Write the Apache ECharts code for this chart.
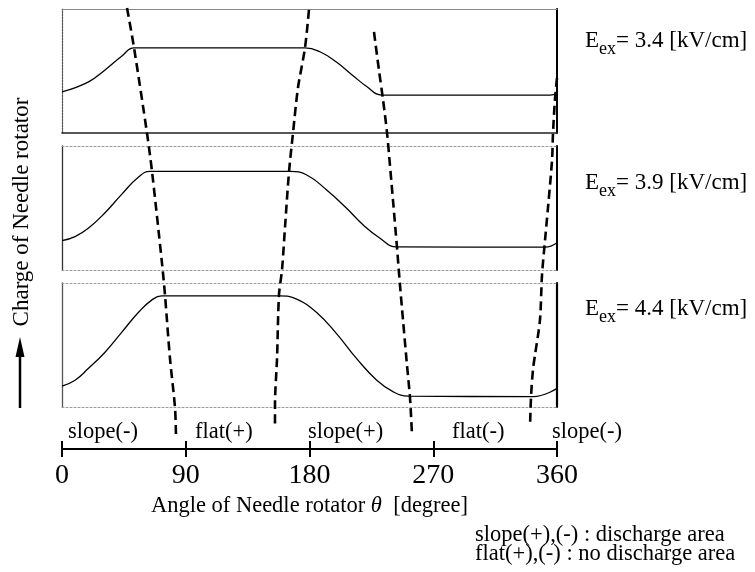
<!DOCTYPE html>
<html>
<head>
<meta charset="utf-8">
<script src="https://cdn.jsdelivr.net/npm/echarts@6/dist/echarts.min.js"></script>
<style>
  html, body { margin: 0; padding: 0; background: #fff; }
  #chart { width: 755px; height: 572px; }
</style>
</head>
<body>
<div id="chart"></div>
<script>
// Charge of the needle rotator over one turn: [θ in degrees, charge normalised to the panel height]
const chargeE34 = [[0,0.331],[19,0.41],[31.3,0.508],[43.6,0.621],[52.4,0.687],[176.7,0.687],[187.6,0.655],[199.8,0.57],[211.9,0.46],[221.6,0.375],[232.5,0.306],[355,0.306],[360,0.315]];
const chargeE39 = [[0,0.236],[9.5,0.269],[19.1,0.336],[31.3,0.462],[43.4,0.610],[55.5,0.748],[64,0.795],[165.8,0.795],[178,0.766],[192.5,0.645],[207,0.498],[219.1,0.363],[231.3,0.256],[243.4,0.186],[351.3,0.184],[360,0.22]];
const chargeE44 = [[0,0.168],[9.5,0.216],[19.1,0.31],[31.3,0.442],[43.4,0.602],[55.5,0.762],[65.2,0.862],[72.5,0.896],[158.5,0.896],[170.7,0.87],[185.2,0.762],[199.8,0.59],[214.3,0.39],[228.9,0.216],[241,0.122],[251.9,0.088],[342.8,0.084],[360,0.15]];

// Boundaries between slope and flat regions, drawn across the whole stack:
// [θ in degrees, height above the angle axis in panel heights]
const boundaryA = [[47.3,3.556],[52.4,3.234],[61.8,2.548],[65.5,2.234],[72.7,1.5],[74.9,1.242],[78.5,0.734],[82.2,0.331],[82.9,0.105]];
const boundaryB = [[179.6,3.54],[176.7,3.234],[171.6,2.911],[168,2.548],[165.1,2.234],[162.2,1.79],[160,1.444],[157.8,1.242],[156.4,0.734],[154.9,0.355],[154.9,0.177]];
const boundaryC = [[226.9,3.363],[230.5,3.056],[233.5,2.815],[236.4,2.548],[238.5,2.29],[240.7,2.008],[243.6,1.629],[245.8,1.323],[248,1.04],[250.9,0.677],[253.1,0.411],[254.5,0.121]];
const boundaryD = [[360,2.992],[358.5,2.815],[357.1,2.548],[356.4,2.331],[353.5,1.952],[351.3,1.685],[349.1,1.403],[347.6,1.04],[344,0.758],[342.5,0.637],[341.1,0.419],[340.4,0.177]];

const fieldLabels = ['3.4', '3.9', '4.4'];
const regionLabels = ['slope(-)', 'flat(+)', 'slope(+)', 'flat(-)', 'slope(-)'];
const angleTicks = [0, 90, 180, 270, 360];
const noteLines = ['slope(+),(-) : discharge area', 'flat(+),(-) : no discharge area'];

const FONT = 'Liberation Serif';
const chart = echarts.init(document.getElementById('chart'), null, { renderer: 'canvas' });

const panelTops = [9, 146, 283];
const PANEL_H = 124;
const grids = panelTops.map(t => ({ left: 62, right: 198, top: t, height: PANEL_H }));
grids.push({ left: 62, right: 198, top: 8, bottom: 123 });   // frame for boundaries + angle axis
grids.push({ left: 62, right: 198, top: 8, bottom: 123 });   // outward tick marks

function hLine(gridIndex, position, lineStyle) {
  return {
    type: 'value', gridIndex, position, min: 0, max: 360,
    axisLine: { show: true, onZero: false, lineStyle },
    axisTick: { show: false }, axisLabel: { show: false }, splitLine: { show: false }
  };
}
function vLine(gridIndex, position, lineStyle) {
  return {
    type: 'value', gridIndex, position, min: 0, max: 1,
    axisLine: { show: true, onZero: false, lineStyle },
    axisTick: { show: false }, axisLabel: { show: false }, splitLine: { show: false }
  };
}
const dotted = { color: '#9a9a9a', width: 1, type: [2, 2] };
const xAxes = [
  hLine(0, 'bottom', { color: '#222', width: 1.5 }),
  hLine(0, 'top', { color: '#888', width: 1 }),
  hLine(1, 'bottom', dotted),
  hLine(1, 'top', dotted),
  hLine(2, 'bottom', dotted),
  hLine(2, 'top', dotted)
];
const yAxes = [
  vLine(0, 'left', { color: '#555', width: 1.2, type: [2, 1] }),
  vLine(0, 'right', { color: '#000', width: 2 }),
  vLine(1, 'left', { color: '#333', width: 1.3 }),
  vLine(1, 'right', { color: '#000', width: 2 }),
  vLine(2, 'left', { color: '#555', width: 1.3 }),
  vLine(2, 'right', { color: '#000', width: 2.2 })
];

// Angle axis with ticks crossing the line
xAxes.push({
  type: 'value', gridIndex: 3, position: 'bottom', min: 0, max: 360, interval: 90,
  axisLine: { show: true, onZero: false, lineStyle: { color: '#000', width: 2 } },
  axisTick: { show: true, inside: true, length: 8, lineStyle: { color: '#000', width: 2 } },
  axisLabel: {
    show: true, margin: 13, color: '#000', fontFamily: FONT, fontSize: 28,
    showMinLabel: true, showMaxLabel: true,
    formatter: v => (angleTicks.includes(v) ? String(v) : '')
  },
  splitLine: { show: false },
  name: '{n|Angle of Needle rotator }{i|θ}{n|  [degree]}',
  nameLocation: 'middle', nameGap: 45,
  nameTextStyle: {
    rich: {
      n: { fontFamily: FONT, fontSize: 22.5, color: '#000' },
      i: { fontFamily: FONT, fontSize: 22.5, fontStyle: 'italic', color: '#000' }
    }
  }
});
xAxes.push({
  type: 'value', gridIndex: 4, position: 'bottom', min: 0, max: 360, interval: 90,
  axisLine: { show: false, onZero: false },
  axisTick: { show: true, inside: false, length: 8, lineStyle: { color: '#000', width: 2 } },
  axisLabel: { show: false }, splitLine: { show: false }
});
yAxes.push({ type: 'value', gridIndex: 3, min: 0, max: 3.556, show: false });
yAxes.push({ type: 'value', gridIndex: 4, min: 0, max: 1, show: false });

const curveStyle = { color: '#000', width: 1.3 };
const boundaryStyle = { color: '#000', width: 2.6, type: [9, 5] };
const series = [chargeE34, chargeE39, chargeE44].map((data, i) => ({
  type: 'line', xAxisIndex: 2 * i, yAxisIndex: 2 * i, data,
  smooth: 0.45, symbol: 'none', lineStyle: curveStyle, silent: true, z: 3
}));
[boundaryA, boundaryB, boundaryC, boundaryD].forEach(data => {
  series.push({
    type: 'line', xAxisIndex: 6, yAxisIndex: 6, data,
    smooth: 0.3, symbol: 'none', lineStyle: boundaryStyle, silent: true, z: 5
  });
});

// Text annotations
const graphic = [];
graphic.push({
  type: 'text', x: 22, y: 212, rotation: Math.PI / 2,
  style: { x: 0, y: 0, text: 'Charge of Needle rotator', fontFamily: FONT, fontSize: 23, fill: '#000', align: 'center', verticalAlign: 'middle' }
});
graphic.push({ type: 'line', shape: { x1: 20, y1: 408, x2: 20, y2: 352 }, style: { stroke: '#000', lineWidth: 2.5 } });
graphic.push({ type: 'polygon', shape: { points: [[20, 337], [15.5, 357], [24.5, 357]] }, style: { fill: '#000' } });

// Field strength labels: "E" with a lowered "ex" subscript
const measure = document.createElement('canvas').getContext('2d');
function textWidth(str, size) {
  measure.font = size + 'px "' + FONT + '"';
  return measure.measureText(str).width;
}
const E_SIZE = 23, SUB_SIZE = 18;
const fieldCenter = [41, 183, 309];
fieldLabels.forEach((v, i) => {
  const x0 = 585, yc = fieldCenter[i];
  const wE = textWidth('E', E_SIZE);
  const wSub = textWidth('ex', SUB_SIZE);
  const common = { fontFamily: FONT, fill: '#000', align: 'left', verticalAlign: 'middle' };
  graphic.push({ type: 'text', style: Object.assign({ x: x0, y: yc, text: 'E', fontSize: E_SIZE }, common) });
  graphic.push({ type: 'text', style: Object.assign({ x: x0 + wE, y: yc + 8.5, text: 'ex', fontSize: SUB_SIZE }, common) });
  graphic.push({ type: 'text', style: Object.assign({ x: x0 + wE + wSub, y: yc, text: '= ' + v + ' [kV/cm]', fontSize: E_SIZE }, common) });
});

const regionLabelX = [68, 195, 308, 452, 552];
regionLabels.forEach((t, i) => {
  graphic.push({
    type: 'text', x: regionLabelX[i], y: 432,
    style: { x: 0, y: 0, text: t, fontFamily: FONT, fontSize: 22.5, fill: '#000', align: 'left', verticalAlign: 'middle' }
  });
});

noteLines.forEach((t, i) => {
  graphic.push({
    type: 'text', x: 475, y: 535 + 19 * i,
    style: { x: 0, y: 0, text: t, fontFamily: FONT, fontSize: 22.5, fill: '#000', align: 'left', verticalAlign: 'middle' }
  });
});

chart.setOption({
  animation: false,
  backgroundColor: '#fff',
  grid: grids,
  xAxis: xAxes,
  yAxis: yAxes,
  series,
  graphic
});
</script>
</body>
</html>
